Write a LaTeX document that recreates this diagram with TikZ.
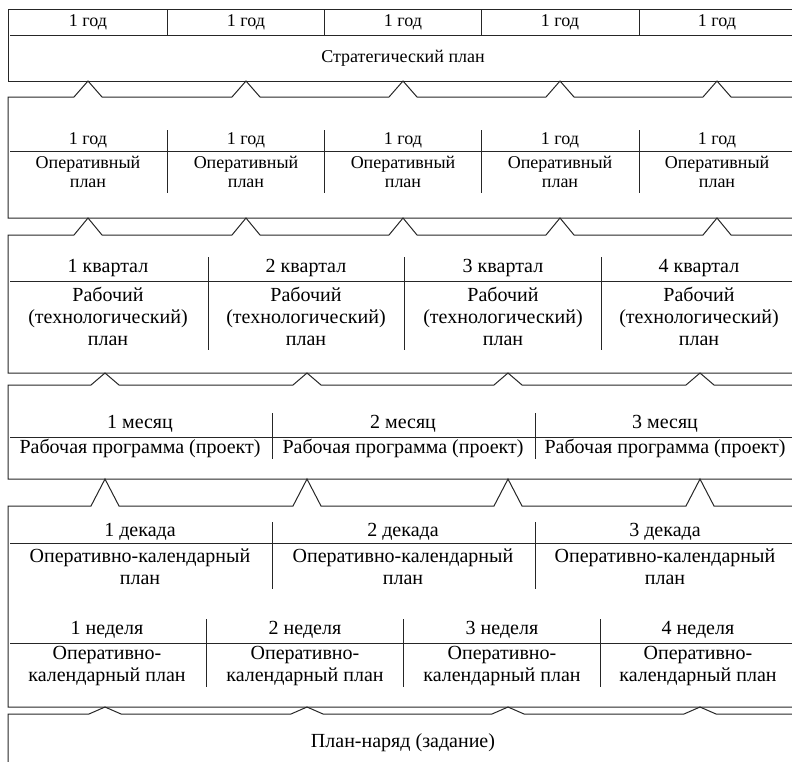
\documentclass[tikz,border=0pt]{standalone}
\usepackage{fontspec}
\setmainfont{Liberation Serif}
\usetikzlibrary{positioning}

\begin{document}
\begin{tikzpicture}[
  x=1pt, y=-1pt,
  frame/.style={draw=black!85, line width=1pt, line join=miter},
  rule/.style={draw=black!85, line width=1pt},
  small/.style={font=\fontsize{18}{19}\selectfont, inner sep=0pt, align=center},
  big/.style={font=\fontsize{20}{22}\selectfont, inner sep=0pt, align=center}
]
\useasboundingbox (0,0) rectangle (792,761);
\clip (0,0) rectangle (792,761);

%% Strategic plan
\draw[frame] (800,9.5) -- (8,9.5) -- (8,81) -- (800,81);
\draw[rule] (10,35) -- (800,35);
\foreach \x in {167,324,481,639} \draw[rule] (\x,9.5) -- (\x,35);
\foreach \c [count=\i] in {88,246,403,560,717}
  \node (yr\i) [small] at (\c,22) {1 год};
\node (strat) [small] at (403,58) {Стратегический план};

%% Operative plans (one per year)
\draw[frame] (800,218) -- (8,218) -- (8,97)
  \foreach \c in {88,246,403,560,717} { -- ({\c-14},97) -- (\c,81) -- ({\c+14},97) }
  -- (800,97);
\draw[rule] (10,151) -- (800,151);
\foreach \x in {167,324,481,639} \draw[rule] (\x,130) -- (\x,193);
\foreach \c [count=\i] in {88,246,403,560,717} {
  \node (opy\i) [small] at (\c,140) {1 год};
  \node (op\i) [small] at (\c,172) {Оперативный\\план};
}

%% Working plans (quarters)
\draw[frame] (800,373) -- (8,373) -- (8,235)
  \foreach \c in {88,246,403,560,717} { -- ({\c-14},235) -- (\c,218) -- ({\c+14},235) }
  -- (800,235);
\draw[rule] (10,281) -- (800,281);
\foreach \x in {208,404,601} \draw[rule] (\x,257) -- (\x,350);
\foreach \c [count=\i] in {108,306,503,699} {
  \node (q\i) [big] at (\c,268) {\i{} квартал};
  \node (work\i) [big] at (\c,316) {Рабочий\\(технологический)\\план};
}

%% Working programmes (months)
\draw[frame] (800,479) -- (8,479) -- (8,385)
  \foreach \c in {105,307,508,700} { -- ({\c-14},385) -- (\c,373) -- ({\c+14},385) }
  -- (800,385);
\draw[rule] (10,437) -- (800,437);
\foreach \x in {272,535} \draw[rule] (\x,413) -- (\x,459);
\foreach \c [count=\i] in {140,403,665} {
  \node (m\i) [big] at (\c,424) {\i{} месяц};
  \node (prog\i) [big] at (\c,448) {Рабочая программа (проект)};
}

%% Operative-calendar plans (decades and weeks)
\draw[frame] (800,707) -- (8,707) -- (8,506)
  \foreach \c in {105,307,508,700} { -- ({\c-14},506) -- (\c,479) -- ({\c+14},506) }
  -- (800,506);
\draw[rule] (10,543) -- (800,543);
\foreach \x in {272,535} \draw[rule] (\x,522) -- (\x,589);
\foreach \c [count=\i] in {140,403,665} {
  \node (dec\i) [big] at (\c,532) {\i{} декада};
  \node (okd\i) [big] at (\c,567) {Оперативно-календарный\\план};
}
\draw[rule] (10,643) -- (800,643);
\foreach \x in {206,403,600} \draw[rule] (\x,619) -- (\x,687);
\foreach \c [count=\i] in {107,305,502,698} {
  \node (wk\i) [big] at (\c,630) {\i{} неделя};
  \node (okw\i) [big] at (\c,666) {Оперативно-\\календарный план};
}

%% Work order
\draw[frame] (800,800) -- (8,800) -- (8,714)
  \foreach \c in {105,307,508,700} { -- ({\c-16},714) -- (\c,707) -- ({\c+16},714) }
  -- (800,714);
\node (order) [big] at (403,743) {План-наряд (задание)};

\end{tikzpicture}
\end{document}
